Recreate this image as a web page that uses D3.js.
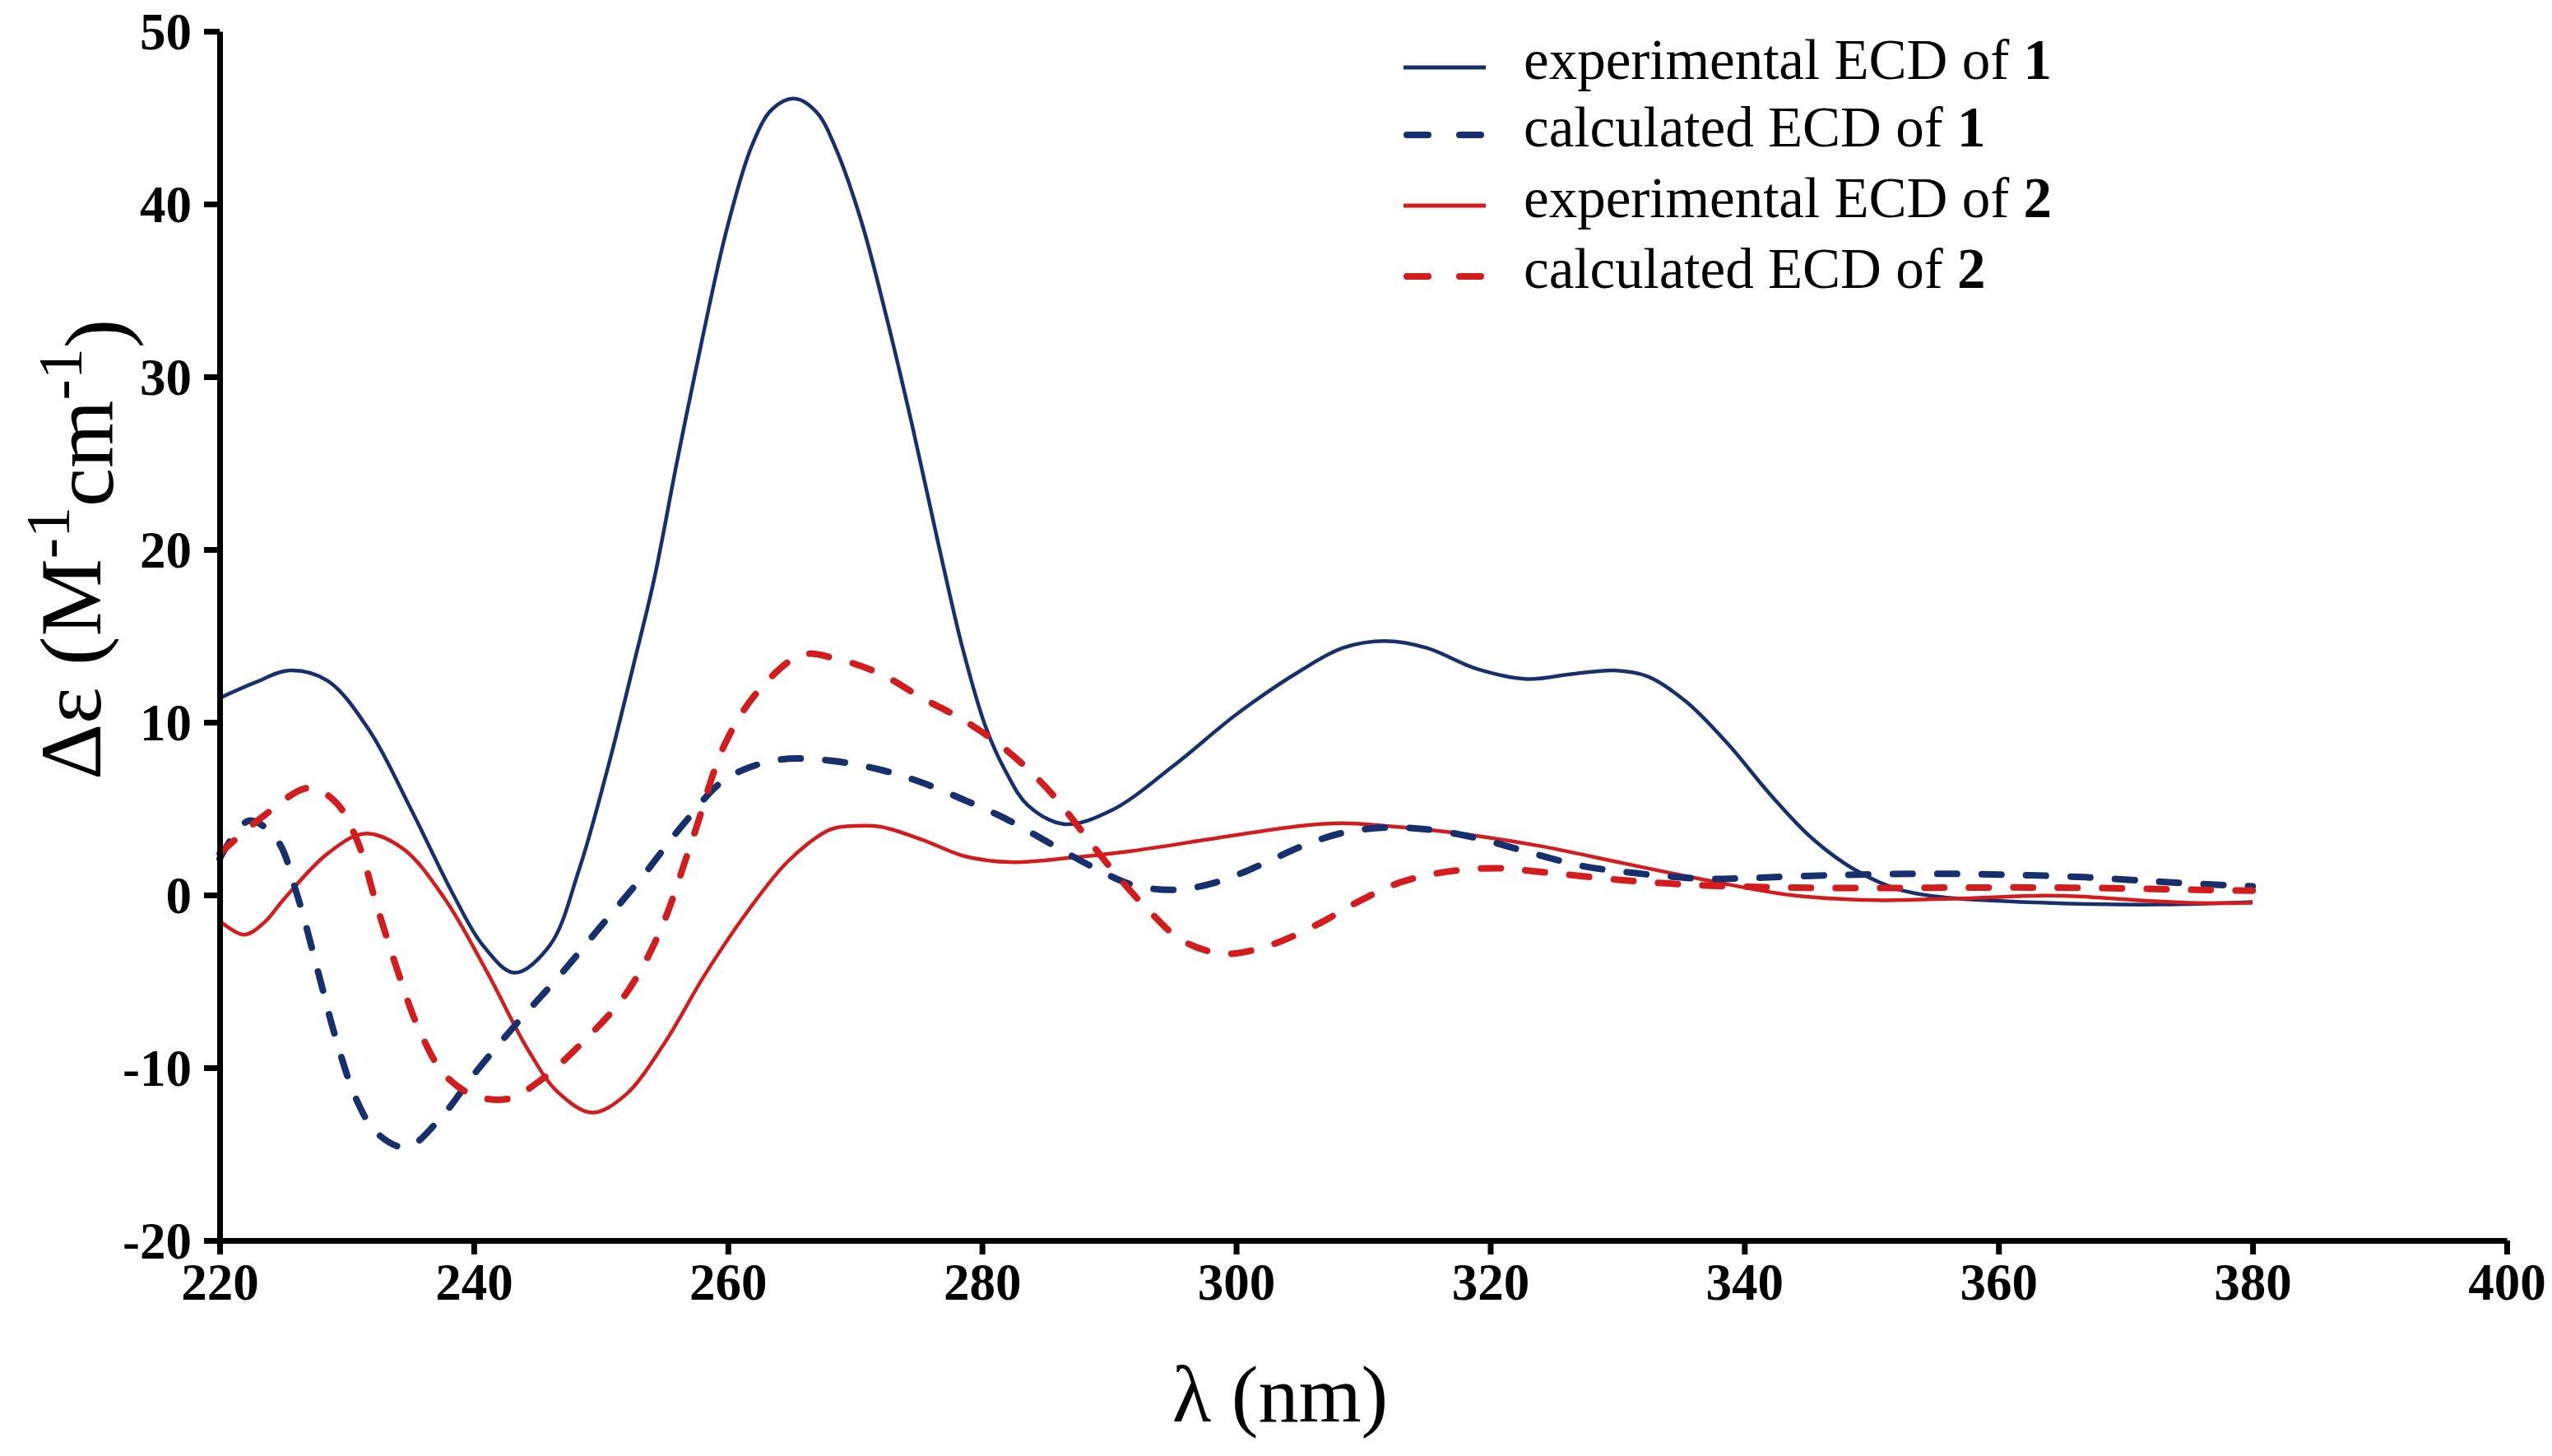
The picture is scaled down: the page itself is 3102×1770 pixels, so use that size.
<!DOCTYPE html>
<html>
<head>
<meta charset="utf-8">
<script src="https://cdn.jsdelivr.net/npm/d3@7"></script>
<style>
  body { margin: 0; background: #fff; }
  svg { display: block; }
  text { font-family: 'Liberation Serif', 'Times New Roman', serif; }
</style>
</head>
<body>
<div id="chart"></div>
<script>
// wavelength (nm), delta epsilon pairs
const exp1 = [
  [220, 11.4], [222.8, 12.3], [225.5, 13.0], [228.5, 12.4], [231.8, 9.5], [235.1, 4.9],
  [238.4, 0.0], [240.7, -2.9], [243.2, -4.5], [246, -2.9], [248.3, 1.5], [250.6, 7.5],
  [252.6, 13.4], [254.2, 18.3], [256, 25.1], [257.9, 31.9], [259.9, 38.5], [261.9, 43.4],
  [263.5, 45.5], [265.3, 46.1], [267, 45.3], [268.5, 43.2], [270.5, 39.0], [272.5, 33.4],
  [274.5, 27.2], [276.6, 20.2], [278.5, 14.2], [280.3, 9.7], [281.9, 7.1], [283.6, 5.2],
  [286.5, 4.1], [290.2, 4.9], [295.1, 7.5], [300.1, 10.5], [305.1, 13.0], [308.4, 14.3],
  [311.7, 14.7], [315, 14.3], [318.9, 13.1], [322.9, 12.5], [326.5, 12.8], [329.8, 13.0],
  [332.4, 12.65], [335.4, 11.2], [338.7, 8.75], [342, 5.85], [345.3, 3.3], [348.6, 1.5],
  [351.9, 0.38], [355.2, -0.1], [360.2, -0.35], [366.8, -0.52], [373, -0.55], [380, -0.4]
]

const calc1 = [
  [220, 2.1], [222.3, 4.3], [224.5, 3.2], [226.1, 0], [227.8, -4.6], [229.1, -8.2],
  [230.8, -11.9], [232.4, -13.8], [234.7, -14.6], [237.4, -12.9], [240, -10.4], [243.3, -7.5],
  [246.6, -4.8], [249.9, -1.9], [253.2, 1.0], [256.5, 4.1], [259.8, 6.7], [263.8, 7.8],
  [267.8, 7.8], [272, 7.25], [275.3, 6.5], [278.6, 5.5], [281.9, 4.4], [285.2, 3.05],
  [288.5, 1.7], [291.8, 0.6], [295.1, 0.3], [298.5, 0.75], [301.8, 1.7], [305.1, 2.8],
  [308.4, 3.6], [311.7, 3.9], [315, 3.8], [318.9, 3.3], [322.9, 2.5], [327.1, 1.7],
  [330.4, 1.35], [333.7, 1.1], [337, 0.93], [340.3, 0.98], [347, 1.15], [353.6, 1.23],
  [360.2, 1.18], [366.8, 1.03], [371.7, 0.81], [375.6, 0.65], [380, 0.5]
]

const exp2 = [
  [220, -1.5], [221.9, -2.3], [223.5, -1.6], [225.1, -0.2], [228.5, 2.4], [231.4, 3.55],
  [234.4, 2.7], [237.7, -0.2], [241, -4.4], [244.3, -9.0], [246.6, -11.4], [249.3, -12.6],
  [251.9, -11.6], [254.9, -8.7], [258.2, -4.6], [261.5, -1.0], [264.8, 2.0], [268.1, 3.8],
  [270.1, 4.0], [272, 3.95], [275.3, 3.2], [278.6, 2.25], [282.3, 1.9], [286.9, 2.15],
  [291.8, 2.55], [298.5, 3.3], [305.1, 4.0], [308.4, 4.15], [311.7, 4.0], [316.6, 3.65],
  [323.8, 2.85], [330.4, 1.85], [337, 0.86], [343.6, 0.0], [350.3, -0.3], [356.9, -0.2],
  [363.5, -0.04], [366.8, -0.1], [372, -0.35], [375.6, -0.47], [380, -0.45]
]

const calc2 = [
  [220, 2.4], [223.5, 4.6], [227, 6.2], [229.1, 5.4], [230.8, 3.2], [232.4, -0.7],
  [234.1, -4.6], [235.7, -7.8], [237.7, -10.4], [240, -11.6], [242.7, -11.8], [245.3, -10.7],
  [248.6, -8.5], [251.9, -5.8], [254.6, -2.2], [257.2, 3.2], [259.8, 8.8], [262.5, 11.9],
  [265.8, 13.9], [268.4, 13.7], [272, 12.8], [275.3, 11.4], [278.6, 10.1], [281.9, 8.4],
  [285.2, 6.1], [287.9, 3.65], [290.2, 1.5], [293.2, -0.96], [295.8, -2.65], [299.1, -3.4],
  [302.7, -2.9], [306.4, -1.7], [309.7, -0.35], [313, 0.75], [316.6, 1.35], [320.6, 1.55],
  [323.8, 1.35], [330.4, 0.86], [337, 0.55], [343.6, 0.43], [350.3, 0.4], [356.9, 0.43],
  [363.5, 0.43], [370.1, 0.38], [375.6, 0.3], [380, 0.25]
]

const xTicks = [220, 240, 260, 280, 300, 320, 340, 360, 380, 400]
const yTicks = [-20, -10, 0, 10, 20, 30, 40, 50]

const legendNames = ['experimental ECD of ', 'calculated ECD of ', 'experimental ECD of ', 'calculated ECD of ']
const legendNums = ['1', '1', '2', '2']

const blue = '#16306f'
const red = '#d41c1c'

const series = [
  { data: exp1, color: blue, dashed: false },
  { data: exp2, color: red, dashed: false },
  { data: calc1, color: blue, dashed: true },
  { data: calc2, color: red, dashed: true }
]
const legendStyle = [
  { color: blue, dashed: false },
  { color: blue, dashed: true },
  { color: red, dashed: false },
  { color: red, dashed: true }
]

const width = 3102
const height = 1770

const svg = d3.select('#chart')
  .append('svg')
  .attr('width', width)
  .attr('height', height)

const x = d3.scaleLinear().domain([220, 400]).range([267, 3047])
const y = d3.scaleLinear().domain([-20, 50]).range([1508, 38])

const line = d3.line()
  .x(d => x(d[0]))
  .y(d => y(d[1]))
  .curve(d3.curveCatmullRom.alpha(0.5))

// curves
svg.selectAll('path.curve')
  .data(series)
  .enter()
  .append('path')
  .attr('class', 'curve')
  .attr('d', d => line(d.data))
  .attr('fill', 'none')
  .attr('stroke', d => d.color)
  .attr('stroke-width', d => d.dashed ? 8 : 4.5)
  .attr('stroke-linecap', d => d.dashed ? 'round' : 'butt')
  .attr('stroke-dasharray', d => d.dashed ? '24,30' : null)

// axes (plain hyphen for negatives, like the original)
const yAxis = svg.append('g')
  .attr('transform', 'translate(' + x(220) + ',0)')
  .call(d3.axisLeft(y).tickValues(yTicks).tickFormat(d => String(d))
    .tickSize(19).tickSizeOuter(0).tickPadding(15))

const xAxis = svg.append('g')
  .attr('transform', 'translate(0,' + y(-20) + ')')
  .call(d3.axisBottom(x).tickValues(xTicks).tickFormat(d => String(d))
    .tickSize(17).tickSizeOuter(0).tickPadding(10))

for (const ax of [xAxis, yAxis]) {
  ax.select('.domain').attr('stroke', '#000').attr('stroke-width', 7)
  ax.selectAll('.tick line').attr('stroke', '#000').attr('stroke-width', 7)
  ax.selectAll('.tick text')
    .attr('fill', '#000')
    .style('font-family', "'Liberation Serif', serif")
    .style('font-weight', 'bold')
    .style('font-size', '63px')
}
yAxis.selectAll('.tick text').attr('dy', '0.34em')

// axis titles
svg.append('text')
  .attr('x', 1556)
  .attr('y', 1728)
  .attr('text-anchor', 'middle')
  .style('font-size', '98px')
  .text('λ (nm)')

const yTitle = svg.append('text')
  .attr('transform', 'translate(122,668) rotate(-90)')
  .attr('text-anchor', 'middle')
  .style('font-size', '106px')
yTitle.append('tspan').text('Δε (M')
yTitle.append('tspan').attr('dy', '-0.5em').style('font-size', '76px').text('-1')
yTitle.append('tspan').attr('dy', '0.5em').text('cm')
yTitle.append('tspan').attr('dy', '-0.5em').style('font-size', '76px').text('-1')
yTitle.append('tspan').attr('dy', '0.5em').text(')')

// legend
const rowY = [82, 164, 250, 336]
const legend = svg.selectAll('g.legend')
  .data(legendNames)
  .enter()
  .append('g')
  .attr('class', 'legend')
  .attr('transform', (d, i) => 'translate(0,' + rowY[i] + ')')

legend.append('line')
  .attr('x1', (d, i) => legendStyle[i].dashed ? 1710 : 1706)
  .attr('x2', (d, i) => legendStyle[i].dashed ? 1802 : 1806)
  .attr('stroke', (d, i) => legendStyle[i].color)
  .attr('stroke-width', (d, i) => legendStyle[i].dashed ? 8 : 5)
  .attr('stroke-linecap', (d, i) => legendStyle[i].dashed ? 'round' : 'butt')
  .attr('stroke-dasharray', (d, i) => legendStyle[i].dashed ? '26,38' : null)

const legendText = legend.append('text')
  .attr('x', 1852)
  .attr('y', 14)
  .style('font-size', '69px')
legendText.append('tspan').text(d => d)
legendText.append('tspan').style('font-weight', 'bold').text((d, i) => legendNums[i])
</script>
</body>
</html>
